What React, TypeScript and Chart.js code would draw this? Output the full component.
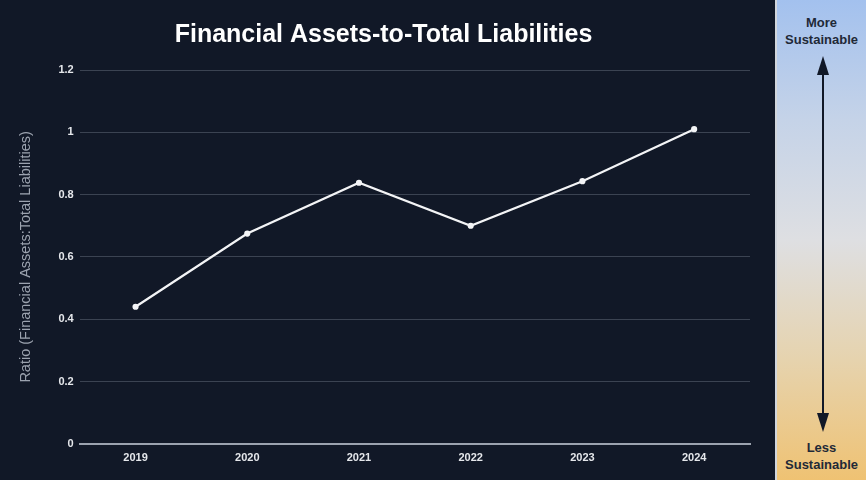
import React, { useEffect, useRef } from "react";
import { Chart, registerables } from "chart.js";

Chart.register(...registerables);

const years = ["2019", "2020", "2021", "2022", "2023", "2024"];
const ratios = [0.44, 0.675, 0.838, 0.70, 0.843, 1.01];
const chartTitle = "Financial Assets-to-Total Liabilities";
const yAxisTitle = "Ratio (Financial Assets:Total Liabilities)";
const topLabel = ["More", "Sustainable"];
const bottomLabel = ["Less", "Sustainable"];

const FONT = "'Liberation Sans', Arial, Helvetica, sans-serif";
const BG = "#111827";

export default function App() {
  const ref = useRef<HTMLCanvasElement | null>(null);

  useEffect(() => {
    document.body.style.margin = "0";
    document.body.style.background = BG;
    if (!ref.current) return;
    const chart = new Chart(ref.current, {
      type: "line",
      data: {
        labels: years,
        datasets: [
          {
            data: ratios,
            borderColor: "#f3f4f6",
            backgroundColor: "#f3f4f6",
            borderWidth: 2.2,
            pointRadius: 2,
            pointBackgroundColor: "#f3f4f6",
            pointBorderColor: "#f3f4f6",
            tension: 0,
          },
        ],
      },
      options: {
        animation: false,
        responsive: true,
        maintainAspectRatio: false,
        layout: { padding: { left: 17, right: 25, top: 6, bottom: 7 } },
        plugins: {
          legend: { display: false },
          tooltip: { enabled: false },
          title: {
            display: true,
            text: chartTitle,
            color: "#ffffff",
            font: { family: FONT, size: 25, weight: "bold" },
            padding: { top: 14, bottom: 20 },
          },
        },
        scales: {
          x: {
            offset: true,
            grid: { display: false, drawTicks: false },
            border: { display: true, color: "#9ca3af", width: 2 },
            ticks: {
              color: "#e5e7eb",
              font: { family: FONT, size: 11, weight: "bold" },
              padding: 8,
            },
          },
          y: {
            min: 0,
            max: 1.2,
            ticks: {
              stepSize: 0.2,
              color: "#e5e7eb",
              font: { family: FONT, size: 11, weight: "bold" },
              padding: 6,
              callback: (v: any) => String(parseFloat(Number(v).toFixed(2))),
            },
            grid: { color: "#3b4352", drawTicks: false, lineWidth: 1 },
            border: { display: false },
            title: {
              display: true,
              text: yAxisTitle,
              color: "#9ca3af",
              font: { family: FONT, size: 14.5 },
              padding: { top: 0, bottom: 18 },
            },
          },
        },
      },
    });
    return () => chart.destroy();
  }, []);

  const labelStyle: React.CSSProperties = {
    position: "absolute",
    left: 0,
    right: 0,
    textAlign: "center",
    fontFamily: FONT,
    fontWeight: "bold",
    fontSize: 13,
    lineHeight: "17px",
    color: "#1f2937",
  };

  return (
    <div style={{ display: "flex", width: 866, height: 480, background: BG, overflow: "hidden" }}>
      <div style={{ position: "relative", width: 775, height: 480 }}>
        <canvas ref={ref} />
      </div>
      <div
        style={{
          position: "relative",
          width: 91,
          height: 480,
          boxSizing: "border-box",
          borderLeft: "2px solid #d1d5db",
          background: "linear-gradient(to bottom, #a3c1ee 0%, #c5d3e8 25%, #dedfe2 50%, #e6d3ae 75%, #efc273 100%)",
        }}
      >
        <div style={{ ...labelStyle, top: 14 }}>
          {topLabel[0]}
          <br />
          {topLabel[1]}
        </div>
        <svg width={89} height={480} style={{ position: "absolute", left: 0, top: 0 }}>
          <line x1={46} y1={70} x2={46} y2={418} stroke="#111827" strokeWidth={2} />
          <polygon points="46,56 40,75 52,75" fill="#111827" />
          <polygon points="46,432 40,413 52,413" fill="#111827" />
        </svg>
        <div style={{ ...labelStyle, top: 439 }}>
          {bottomLabel[0]}
          <br />
          {bottomLabel[1]}
        </div>
      </div>
    </div>
  );
}
